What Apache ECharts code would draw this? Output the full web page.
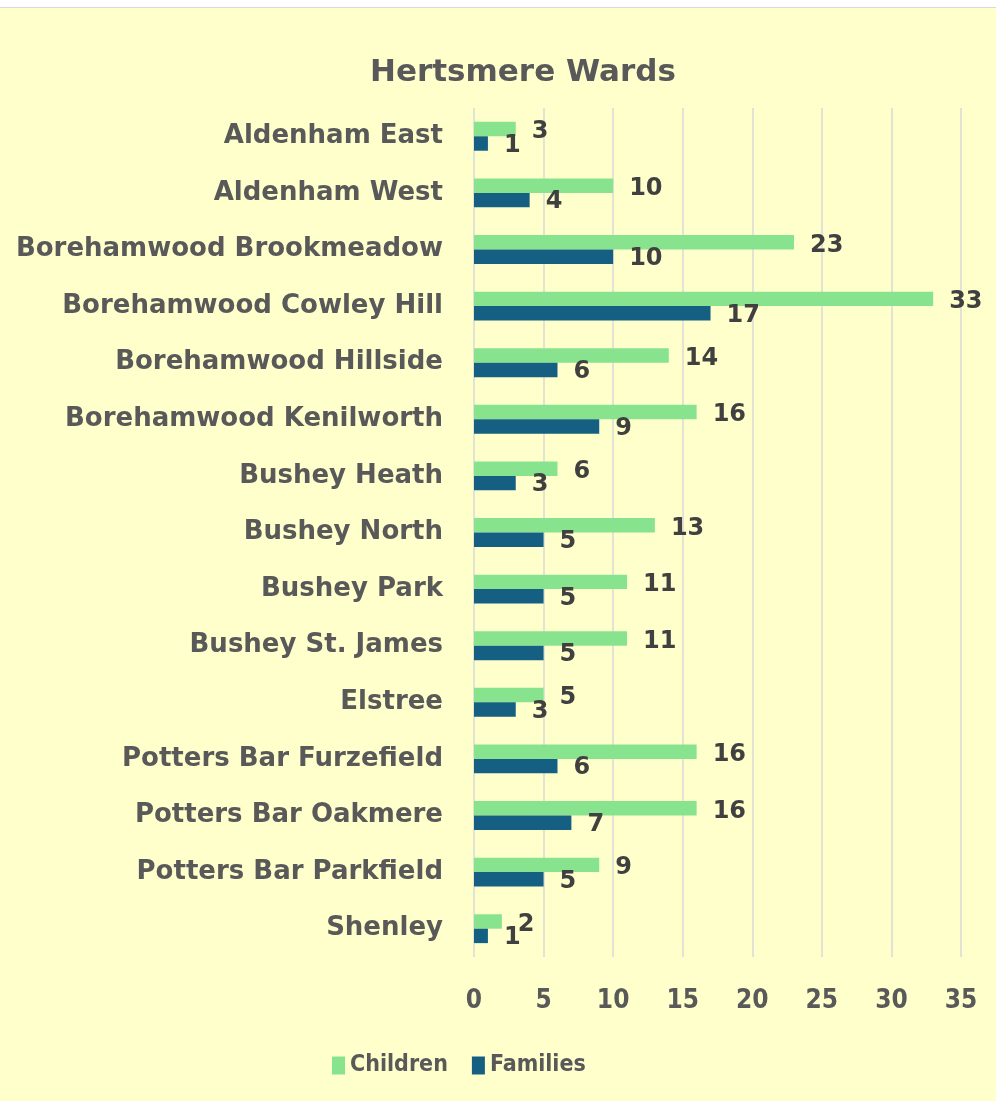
<!DOCTYPE html>
<html>
<head>
<meta charset="utf-8">
<script src="https://cdn.jsdelivr.net/npm/echarts@6/dist/echarts.min.js"></script>
<style>
    html, body { margin: 0; padding: 0; background: #ffffff; }
    #wrap { position: absolute; left: 0; top: 7px; width: 996px; height: 1094px; border-top: 1px solid #d9d9d9; background: #ffffcc; }
    #chart { width: 996px; height: 1093px; }
</style>
</head>
<body>
<div id="wrap"><div id="chart"></div></div>
<script>
    var wards = ['Aldenham East', 'Aldenham West', 'Borehamwood Brookmeadow', 'Borehamwood Cowley Hill',
        'Borehamwood Hillside', 'Borehamwood Kenilworth', 'Bushey Heath', 'Bushey North', 'Bushey Park',
        'Bushey St. James', 'Elstree', 'Potters Bar Furzefield', 'Potters Bar Oakmere',
        'Potters Bar Parkfield', 'Shenley'];
    var children = [3, 10, 23, 33, 14, 16, 6, 13, 11, 11, 5, 16, 16, 9, 2];
    var families = [1, 4, 10, 17, 6, 9, 3, 5, 5, 5, 3, 6, 7, 5, 1];

    var wide = '"DejaVu Sans", sans-serif';
    var narrow = '"Liberation Sans Narrow", "DejaVu Sans Condensed", sans-serif';
    var myChart = echarts.init(document.getElementById('chart'));
    var option = {
        backgroundColor: 'transparent',
        title: {
            text: 'Hertsmere Wards',
            left: 365,
            top: 44,
            textStyle: { fontFamily: wide, fontSize: 31, fontWeight: 'bold', color: '#595959' }
        },
        legend: {
            data: ['Children', 'Families'],
            top: 1041,
            left: 327,
            itemWidth: 13,
            itemHeight: 18,
            itemGap: 24,
            icon: 'rect',
            textStyle: { fontFamily: narrow, fontSize: 23, fontWeight: 'bold', color: '#595959' }
        },
        grid: { left: 474, right: 35, top: 100, bottom: 144 },
        xAxis: {
            type: 'value',
            min: 0,
            max: 35,
            interval: 5,
            axisLine: { show: false },
            axisTick: { show: false },
            axisLabel: { margin: 31, fontFamily: narrow, fontSize: 26, fontWeight: 'bold', color: '#595959' },
            splitLine: { show: true, lineStyle: { color: '#d9d9d9', width: 1.5 } }
        },
        yAxis: {
            type: 'category',
            inverse: true,
            data: wards,
            axisLine: { show: false },
            axisTick: { show: false },
            axisLabel: { margin: 31, fontFamily: wide, fontSize: 26, fontWeight: 'bold', color: '#595959' }
        },
        color: ['#88e38f', '#156082'],
        series: [
            {
                name: 'Children',
                type: 'bar',
                data: children,
                barGap: '0%',
                barCategoryGap: '49%',
                label: {
                    show: true, position: 'right', distance: 16, offset: [0, 3],
                    fontFamily: wide, fontSize: 24, fontWeight: 'bold', color: '#404040'
                }
            },
            {
                name: 'Families',
                type: 'bar',
                data: families,
                barGap: '0%',
                barCategoryGap: '49%',
                label: {
                    show: true, position: 'right', distance: 16, offset: [0, 2],
                    fontFamily: wide, fontSize: 24, fontWeight: 'bold', color: '#404040'
                }
            }
        ]
    };
    myChart.setOption(option);
</script>
</body>
</html>
